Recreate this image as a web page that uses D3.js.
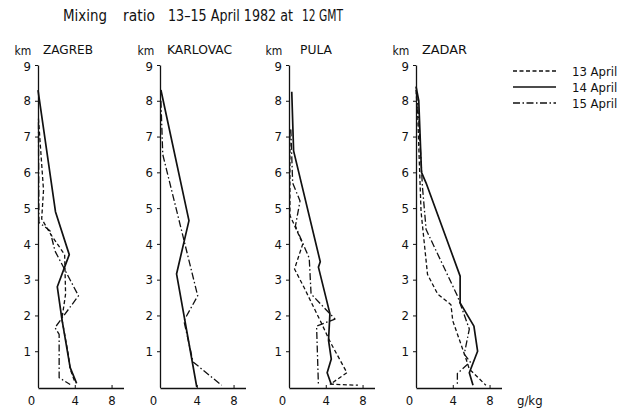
<!DOCTYPE html>
<html><head><meta charset="utf-8">
<script src="https://cdn.jsdelivr.net/npm/d3@7"></script>
<style>
body{margin:0;background:#fff;}
text{font-family:"DejaVu Sans Condensed","Liberation Sans",sans-serif;fill:#111;}
</style></head><body>
<svg id="c" width="632" height="409"></svg>
<script>
const stations = ["ZAGREB","KARLOVAC","PULA","ZADAR"];
const days = ["13 April","14 April","15 April"];
const heightTicks = [1,2,3,4,5,6,7,8,9];
const ratioTicks = [0,4,8];
// each profile: [mixing ratio g/kg, height km]
const zagreb13 = [[0.05,7.5],[0.6,5.5],[0.4,4.7],[1.3,4.3],[2.9,3.7],[3.0,2.6],[2.6,1.9],[3.3,0.9],[3.5,0.5],[4.0,0.15]];
const zagreb14 = [[0,8.3],[1.9,4.9],[3.4,3.7],[2.1,2.8],[2.6,1.9],[3.5,0.54],[4.2,0.1]];
const zagreb15 = [[0.05,7.4],[0.1,4.6],[1.3,4.37],[1.85,3.8],[4.4,2.55],[1.85,1.66],[2.3,1.47],[2.3,0.26],[3.5,0.07]];
const karlovac14 = [[0.1,8.3],[3.15,4.65],[1.8,3.16],[4.0,0.0]];
const karlovac15 = [[0.1,8.0],[0.3,6.5],[4.1,2.55],[2.6,1.85],[3.6,0.7],[6.7,0.05]];
const pula13 = [[0.1,7.2],[0.1,4.8],[1.5,4.0],[0.6,3.3],[1.6,2.8],[3.5,1.8],[4.5,1.25],[6.3,0.4],[4.5,0.08],[7.5,0.05]];
const pula14 = [[0.3,8.25],[0.5,6.6],[3.4,3.5],[3.2,3.35],[4.45,2.05],[4.3,1.3],[4.6,0.78],[4.15,0.4],[4.6,0.07]];
const pula15 = [[0.2,7.2],[0.4,5.7],[1.2,5.2],[0.7,4.5],[2.2,3.6],[2.4,2.6],[5.0,1.9],[3.0,1.7],[3.2,0.05]];
const zadar13 = [[0.0,8.3],[0.2,7.5],[0.4,6.0],[0.55,4.9],[1.25,3.15],[2.35,2.6],[3.8,2.3],[4.0,1.85],[5.4,0.82],[5.8,0.5],[7.6,0.05]];
const zadar14 = [[0.0,8.4],[0.3,8.0],[0.6,6.0],[1.1,5.7],[4.8,3.1],[4.8,2.35],[6.3,1.7],[6.7,1.0],[5.8,0.4],[6.2,0.05]];
const zadar15 = [[0.05,8.2],[0.3,7.5],[0.7,5.6],[1.1,4.4],[4.5,2.55],[5.8,1.62],[5.25,0.92],[5.9,0.7],[4.5,0.38],[4.5,0.08]];
const profiles = [
  [zagreb13, zagreb14, zagreb15],
  [null, karlovac14, karlovac15],
  [pula13, pula14, pula15],
  [zadar13, zadar14, zadar15]
];

const svg = d3.select("#c");
const dashes = ["4,2.5", null, "7,2.5,1.5,2.5"];
const widths = [1.3, 1.7, 1.3];
const origins = [38,160,289,416];
const y = d3.scaleLinear().domain([0,9]).range([387,65]);

const titleParts = [["Mixing",63,44],["ratio",123,32],["13–15 April 1982 at",168,125],["12 GMT",302,41]];
titleParts.forEach(t=>{
  svg.append("text").attr("x",t[1]).attr("y",21).attr("font-size",15)
    .attr("textLength",t[2]).attr("lengthAdjust","spacingAndGlyphs").text(t[0]);
});

const titleX = [43,167,300,422];
const titleW = [50,65,32,45];
const kmX = [23,146,274,401];

stations.forEach((s,i)=>{
  const o = origins[i];
  const x = d3.scaleLinear().domain([0,9.3]).range([o,o+85.5]);
  const g = svg.append("g");
  const ya = g.append("g").attr("transform",`translate(${o},0)`)
    .call(d3.axisLeft(y).tickValues(heightTicks).tickSize(3).tickSizeOuter(0).tickPadding(4));
  ya.select(".domain").attr("stroke","#111").attr("stroke-width",1.3);
  ya.selectAll("line").attr("stroke","#111");
  ya.selectAll("text").attr("font-size",13).style("font-family",'"DejaVu Sans Condensed",sans-serif')
    .attr("dy",d=>d===9?"0.45em":"0.32em");
  const xa = g.append("g").attr("transform",`translate(0,${y(0)+1})`)
    .call(d3.axisBottom(x).tickValues(ratioTicks).tickSizeInner(-3).tickSizeOuter(0).tickPadding(8));
  xa.select(".domain").attr("stroke","#111").attr("stroke-width",1.3);
  xa.selectAll("line").attr("stroke","#111");
  xa.selectAll("text").attr("font-size",13).style("font-family",'"DejaVu Sans Condensed",sans-serif')
    .attr("dx",d=>d===0?-7:0);
  g.append("text").attr("x",titleX[i]).attr("y",54).attr("font-size",13)
    .attr("textLength",titleW[i]).attr("lengthAdjust","spacingAndGlyphs").text(s);
  g.append("text").attr("x",kmX[i]).attr("y",55).attr("font-size",12).attr("text-anchor","middle").text("km");
  const line = d3.line().x(d=>x(d[0])).y(d=>y(d[1]));
  profiles[i].forEach((p,k)=>{
    if(!p) return;
    g.append("path").attr("d",line(p)).attr("fill","none").attr("stroke","#111")
      .attr("stroke-width",widths[k]).attr("stroke-dasharray",dashes[k]).attr("stroke-linejoin","round");
  });
});

const legY = [71,87,103];
days.forEach((d,k)=>{
  svg.append("line").attr("x1",513).attr("x2",556).attr("y1",legY[k]).attr("y2",legY[k])
    .attr("stroke","#111").attr("stroke-width",widths[k]).attr("stroke-dasharray",dashes[k]);
  svg.append("text").attr("x",572).attr("y",legY[k]+5).attr("font-size",13).text(d);
});
svg.append("text").attr("x",517).attr("y",405).attr("font-size",13).text("g/kg");
</script>
</body></html>
